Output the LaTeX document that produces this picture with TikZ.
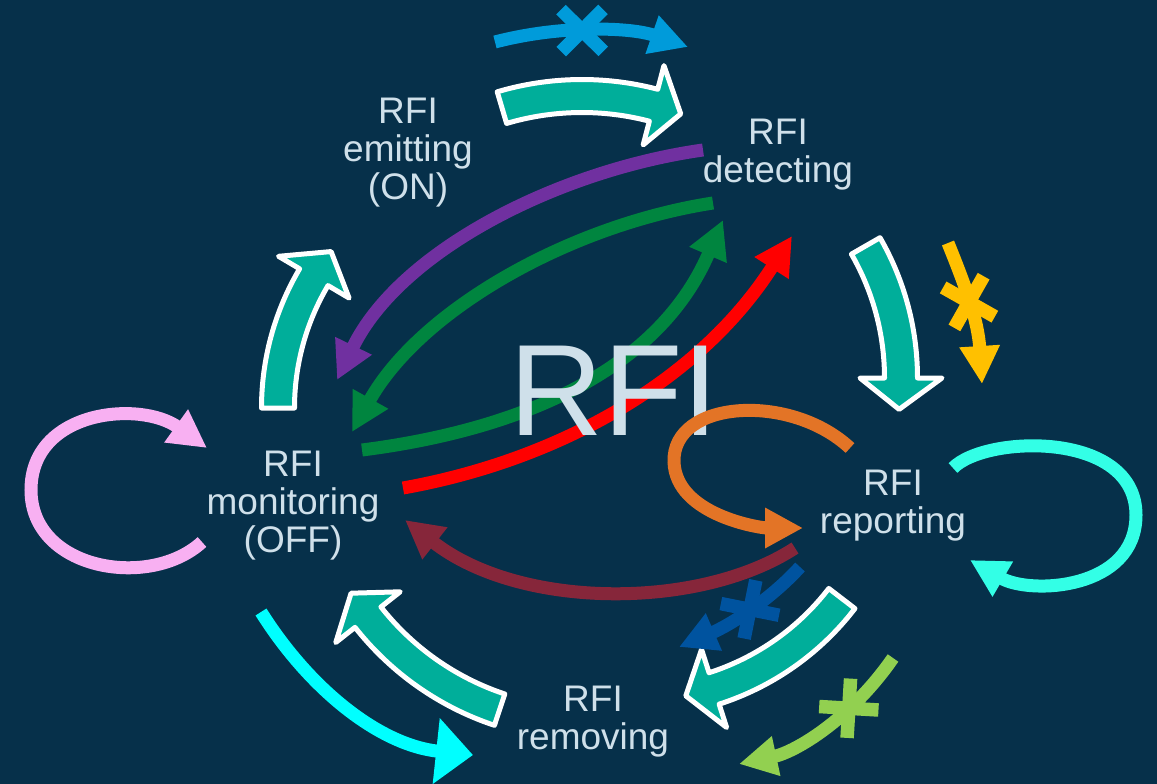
\documentclass[tikz,border=0pt]{standalone}
\usepackage{fontspec}
\setmainfont{Liberation Sans}
\usetikzlibrary{arrows.meta,calc,decorations.markings}
\definecolor{navy}{HTML}{06304A}
\definecolor{labeltext}{HTML}{CFE0EA}
\definecolor{tealfill}{HTML}{00AE9A}
\definecolor{skyblue}{HTML}{009BDA}
\definecolor{violet}{HTML}{7030A0}
\definecolor{forest}{HTML}{00853F}
\definecolor{tangerine}{HTML}{E37426}
\definecolor{maroon}{HTML}{86263A}
\definecolor{royal}{HTML}{00539F}
\definecolor{lime}{HTML}{92D050}
\definecolor{gold}{HTML}{FFC000}
\definecolor{pinkloop}{HTML}{F8B0F2}
\definecolor{aqualoop}{HTML}{33FFE6}
\definecolor{aqua}{HTML}{00FFFF}
\tikzset{
	block/.style={fill=tealfill,draw=white,line width=5pt,line join=round},
	flow/.style={line width=13pt,-{Triangle[length=38pt,width=38pt]}},
	crossed/.style n args={2}{postaction={decorate,decoration={markings,
		mark=at position #1 with {\draw[#2,-,line width=13.5pt] (-21pt,-21pt)--(21pt,21pt) (-21pt,21pt)--(21pt,-21pt);}}}},
	state/.style={text=labeltext,align=center,font=\fontsize{37}{38}\selectfont},
}
\newcommand\tealarrow[5]{%
	\filldraw[block] ($(#1)+(#3:#2+16.5)$) arc[start angle=#3,end angle=#4,radius=#2+16.5]
		-- ($(#1)+(#4:#2+41)$) -- ($(#1)+(#5:#2)$) -- ($(#1)+(#4:#2-41)$)
		-- ($(#1)+(#4:#2-16.5)$) arc[start angle=#4,end angle=#3,radius=#2-16.5] -- cycle;}
\begin{document}
\begin{tikzpicture}[x=1pt,y=-1pt]
	\fill[navy] (0,0) rectangle (1157,784);
	\useasboundingbox (0,0) rectangle (1157,784);
	\tealarrow{582,378}{282}{-106.5}{-75.3}{-69.5}
	\tealarrow{636,378}{265}{-29.9}{0}{6.8}
	\tealarrow{634,439}{262}{37.5}{72.2}{78.6}
	\tealarrow{588,444}{280}{108.4}{141.8}{147.8}
	\tealarrow{535,408}{257}{180}{210.6}{217.5}
	\draw[flow,skyblue,crossed={0.45}{skyblue}] (495,42) .. controls (560,25) and (630,27) .. (688,47);
	\draw[flow,violet] (703,150) .. controls (560,170) and (400,250) .. (337,380);
	\draw[flow,forest] (713,203) .. controls (570,225) and (420,310) .. (352,432);
	\draw[flow,forest] (362,450) .. controls (480,435) and (650,390) .. (723,220);
	\draw[flow,red] (403,488) .. controls (560,460) and (700,380) .. (792,236);
	\node[text=labeltext,font=\fontsize{130}{130}\selectfont,anchor=base] (core) at (614,435) {RFI};
	\draw[flow,tangerine] (850,448) .. controls (790,392) and (672,400) .. (674,462) .. controls (676,515) and (760,528) .. (803,528);
	\draw[flow,maroon] (795,548) .. controls (700,610) and (520,610) .. (405,520);
	\draw[flow,royal,crossed={0.45}{royal}] (800,567) .. controls (770,600) and (730,625) .. (679,647);
	\draw[flow,lime,crossed={0.35}{lime}] (893,658) .. controls (850,720) and (795,752) .. (739,764);
	\draw[flow,gold,crossed={0.43}{gold}] (948,243) .. controls (965,285) and (978,320) .. (982,384);
	\draw[flow,pinkloop] (202,542) .. controls (150,590) and (31,570) .. (31,490) .. controls (31,410) and (140,400) .. (207,448);
	\draw[flow,aqualoop] (953,468) .. controls (985,435) and (1136,430) .. (1136,515) .. controls (1136,590) and (1030,595) .. (970,560);
	\draw[line width=13pt,aqua,-{Triangle[length=37pt,width=64pt]}] (261,612) .. controls (310,690) and (380,745) .. (473,755);
	\node[state] (emitting) at (408,153) {RFI\\emitting\\(ON)};
	\node[state] (detecting) at (778,155) {RFI\\detecting};
	\node[state] (monitoring) at (293,506) {RFI\\monitoring\\(OFF)};
	\node[state] (reporting) at (893,506) {RFI\\reporting};
	\node[state] (removing) at (593,722) {RFI\\removing};
\end{tikzpicture}
\end{document}
